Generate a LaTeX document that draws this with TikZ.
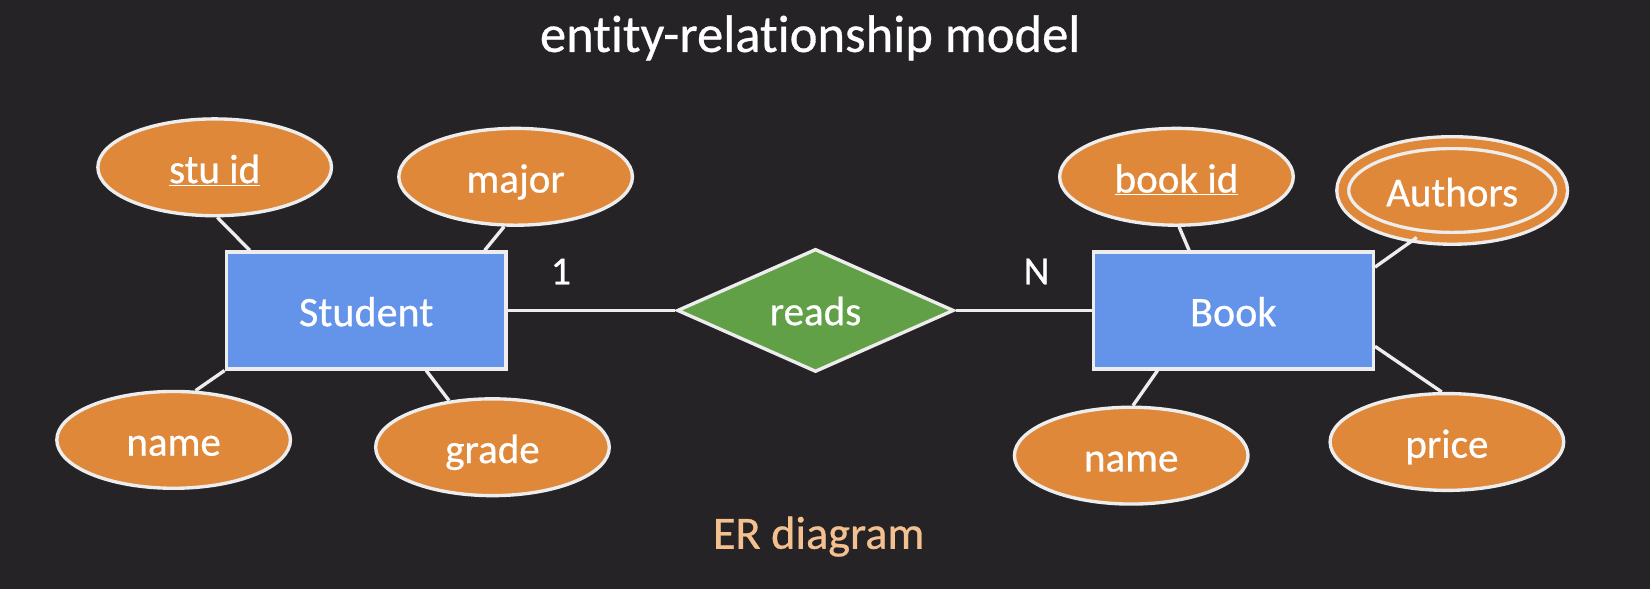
\documentclass[tikz,border=0pt]{standalone}
\usepackage{fontspec}
\setmainfont{Carlito}[Ligatures=NoCommon, FakeBold=0.6]
\usetikzlibrary{shapes.geometric}
\definecolor{bgdark}{HTML}{252326}
\definecolor{attrorange}{HTML}{E0883A}
\definecolor{entblue}{HTML}{6493EA}
\definecolor{relgreen}{HTML}{61A046}
\definecolor{edgegray}{HTML}{EDEDED}
\definecolor{peach}{HTML}{F4C08F}
\tikzset{
  attr/.style={ellipse, draw=edgegray, line width=3.2pt, fill=attrorange, text=white,
    minimum width=222pt, minimum height=92pt, inner sep=0pt, text height=31pt, text depth=1pt,
    font=\fontsize{39}{44}\selectfont},
  entity/.style={rectangle, draw=edgegray, line width=3.2pt, fill=entblue, text=white,
    minimum width=266pt, minimum height=111pt, inner sep=0pt, text height=31pt, text depth=1pt,
    font=\fontsize{40}{46}\selectfont},
  rel/.style={diamond, draw=edgegray, line width=3.2pt, fill=relgreen, text=white,
    minimum width=263pt, minimum height=108pt, inner sep=0pt, text height=29pt, text depth=1pt,
    font=\fontsize{39}{44}\selectfont},
  link/.style={draw=edgegray, line width=3.2pt},
  card/.style={text=white, font=\fontsize{38}{44}\selectfont}
}
\begin{document}
\begin{tikzpicture}[x=1pt,y=-1pt]
  \fill[bgdark] (0,0) rectangle (1568,560);
  \useasboundingbox (0,0) rectangle (1568,560);

  \node[text=white, font=\fontsize{50}{58}\selectfont] (title) at (770,36) {entity-relationship model};

  % entities and relationship
  \node[entity] (student) at (348,295) {Student};
  \node[rel] (reads) at (775,295) {reads};
  \node[entity] (book) at (1172,295) {Book};

  % attributes of Student
  \node[attr] (stuid) at (204,159) {\underline{stu id}};
  \node[attr] (major) at (490,168) {major};
  \node[attr] (stuname) at (165,418) {name};
  \node[attr] (grade) at (468,425) {grade};

  % attributes of Book
  \node[attr, double=attrorange, double distance=8pt, minimum width=208pt, minimum height=91pt] (authors) at (1380,181) {Authors};
  \node[attr] (bookid) at (1118,168) {\underline{book id}};
  \node[attr] (bookname) at (1075,433) {name};
  \node[attr] (price) at (1375,420) {price};

  % connectors
  \draw[link] (stuid.-87) -- ([xshift=24pt]student.north west);
  \draw[link] (major.-103) -- ([xshift=-22pt]student.north east);
  \draw[link] (stuname.66) -- (student.south west);
  \draw[link] (grade.133) -- ([xshift=57pt]student.south);
  \draw[link] (student.east) -- (reads.west);
  \draw[link] (reads.east) -- (book.west);
  \draw[link] (bookid.-87) -- ([xshift=-42pt]book.north);
  \draw[link] (authors.-127) -- ([yshift=-16pt]book.north east);
  \draw[link] (bookname.88) -- ([xshift=-72pt]book.south);
  \draw[link] (price.96) -- ([yshift=23pt]book.south east);

  % cardinalities
  \node[card] (one) at (533,258) {\rmfamily 1};
  \node[card] (many) at (985,258) {N};

  \node[text=peach, font=\fontsize{44}{50}\selectfont] (caption) at (778,510) {ER diagram};
\end{tikzpicture}
\end{document}
